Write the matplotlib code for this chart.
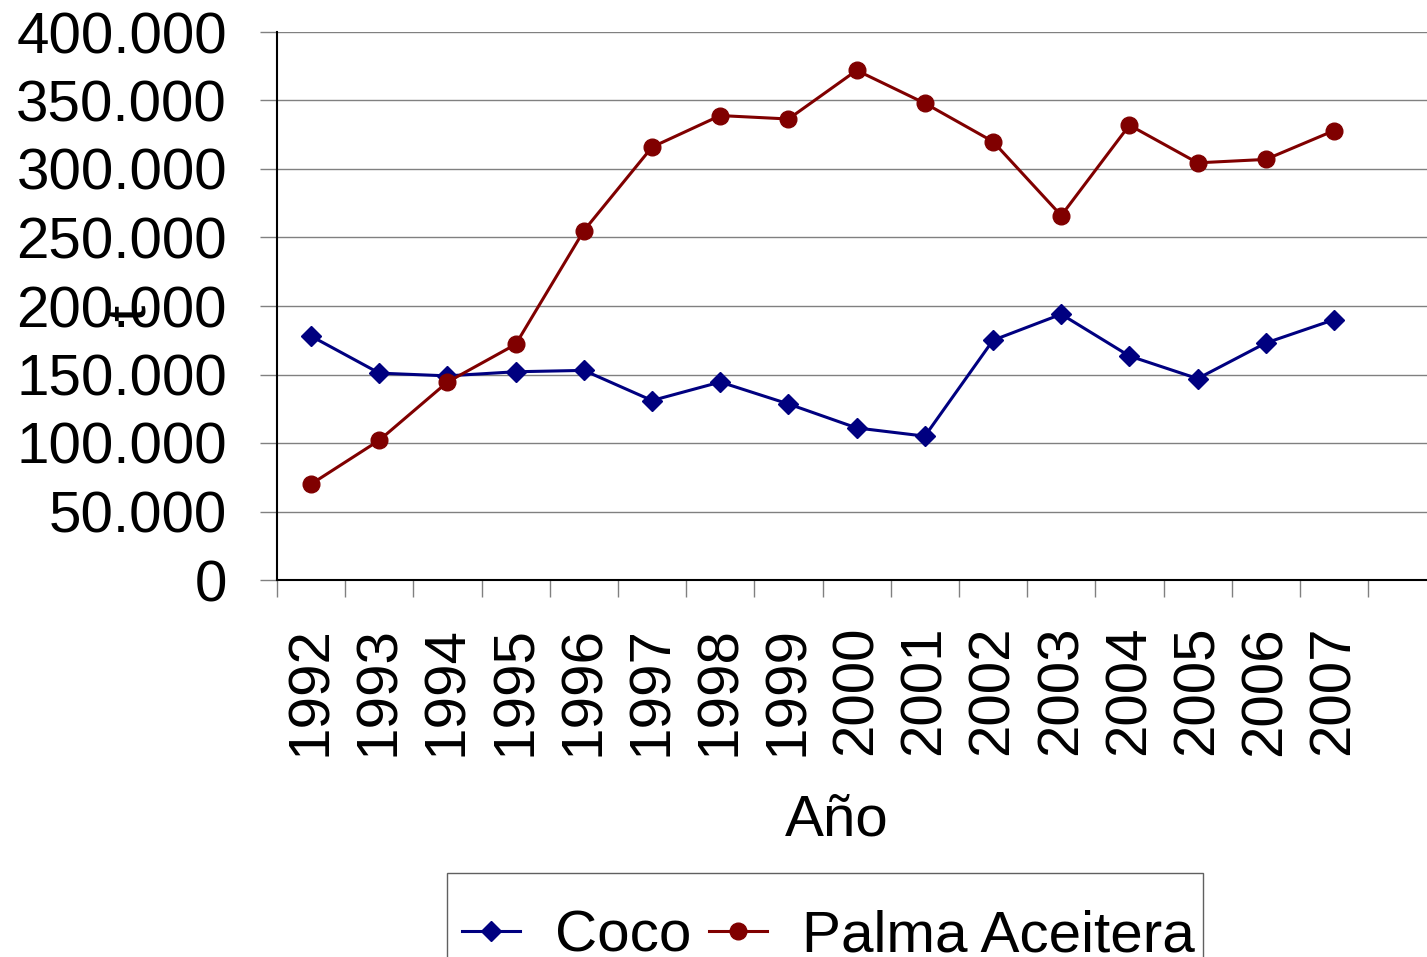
import matplotlib.pyplot as plt
from matplotlib.ticker import FixedLocator
from matplotlib.patches import Rectangle

plt.rcParams['font.family'] = ['Liberation Sans', 'DejaVu Sans']

years = ["1992", "1993", "1994", "1995", "1996", "1997", "1998", "1999",
         "2000", "2001", "2002", "2003", "2004", "2005", "2006", "2007"]
coco = [178000, 151000, 149000, 152000, 153000, 131000, 144500, 128500,
        111000, 105000, 175000, 194000, 163500, 147000, 173000, 190000]
palma = [70000, 102000, 144500, 172000, 255000, 316000, 339000, 336500,
         372000, 348000, 320000, 266000, 332000, 304500, 307000, 328000]
y_ticks = [0, 50000, 100000, 150000, 200000, 250000, 300000, 350000, 400000]
y_labels = ["0", "50.000", "100.000", "150.000", "200.000", "250.000",
            "300.000", "350.000", "400.000"]

fs = 42

fig = plt.figure(figsize=(14.27, 9.57), dpi=100)
ax = fig.add_axes([277 / 1427, 1 - 580 / 957, 1150 / 1427, 548 / 957])

x = list(range(len(years)))
ax.plot(x, coco, color='#000080', marker='D', markersize=10.5, linewidth=2.2,
        label="Coco", zorder=3)
ax.plot(x, palma, color='#800000', marker='o', markersize=12, linewidth=2.2,
        label="Palma Aceitera", zorder=3)

ax.set_xlim(-0.5, (1427 - 311) / 68.2)
ax.set_ylim(0, 400000)

ax.set_yticks(y_ticks)
ax.set_yticklabels(y_labels, fontsize=fs)
ax.yaxis.grid(True, color='#808080', linewidth=1)
ax.tick_params(axis='y', length=12, width=1, color='#808080', pad=24)

ax.set_xticks(x)
ax.set_xticklabels(years, rotation=90, fontsize=fs)
ax.xaxis.set_minor_locator(FixedLocator([i - 0.5 for i in range(len(years) + 2)]))
ax.tick_params(axis='x', which='major', length=0, pad=33)
ax.tick_params(axis='x', which='minor', length=12, width=1, color='#808080')

for side in ['top', 'right']:
    ax.spines[side].set_visible(False)
ax.spines['left'].set_linewidth(1.5)
ax.spines['bottom'].set_linewidth(1.5)

fig.text(837 / 1427, 1 - 820 / 957, "Año", fontsize=fs, ha='center', va='center')
fig.text(130 / 1427, 1 - 313 / 957, "t", fontsize=fs, rotation=90,
         ha='center', va='center')

# legend box (cut off at the bottom like the reference)
fig.patches.append(Rectangle((447 / 1427, -0.01), (1203 - 447) / 1427,
                             (957 - 873) / 957 + 0.01, transform=fig.transFigure,
                             fill=False, edgecolor='#606060', linewidth=1))
fig.legend(loc='upper left', bbox_to_anchor=(450 / 1427, 1 - 898 / 957),
           ncol=2, fontsize=fs, frameon=False, borderaxespad=0, borderpad=0.2,
           handlelength=1.0, handletextpad=0.6, columnspacing=0.3)

fig.savefig("out.png", dpi=100)
